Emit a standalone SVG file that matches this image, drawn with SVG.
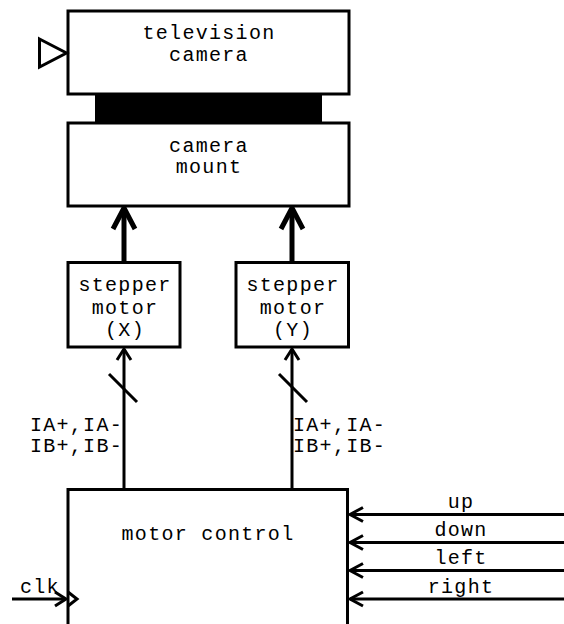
<svg xmlns="http://www.w3.org/2000/svg" width="564" height="624" viewBox="0 0 564 624">
<style>
.box{fill:#fff;stroke:#000;stroke-width:3}
.t{font-family:"Liberation Mono","Courier New",monospace;font-size:20px;letter-spacing:1.3px;fill:#000}
.c{text-anchor:middle}
.e{text-anchor:end}
.ln{fill:none;stroke:#000;stroke-width:3}
.thick{fill:none;stroke:#000;stroke-width:5}
</style>
<rect width="564" height="624" fill="#fff"/>
<g id="connectors">
  <line class="thick" x1="124" y1="262" x2="124" y2="210"/>
  <polyline class="thick" points="113,229 124,208 135,229"/>
  <line class="thick" x1="292" y1="262" x2="292" y2="210"/>
  <polyline class="thick" points="281,229 292,208 303,229"/>
  <line class="ln" x1="124" y1="489" x2="124" y2="349"/>
  <polyline class="ln" points="117,360 124,349 131,360"/>
  <line class="ln" x1="109" y1="374" x2="137" y2="402"/>
  <line class="ln" x1="292" y1="489" x2="292" y2="349"/>
  <polyline class="ln" points="285,360 292,349 299,360"/>
  <line class="ln" x1="279" y1="374" x2="307" y2="402"/>
  <text class="t e" x="123" y="431">IA+,IA-</text>
  <text class="t e" x="123" y="452">IB+,IB-</text>
  <text class="t" x="293" y="431">IA+,IA-</text>
  <text class="t" x="293" y="452">IB+,IB-</text>
  <line class="ln" x1="564" y1="514.5" x2="350" y2="514.5"/>
  <polyline class="ln" points="363,507.5 350,514.5 363,521.5"/>
  <line class="ln" x1="564" y1="542.5" x2="350" y2="542.5"/>
  <polyline class="ln" points="363,535.5 350,542.5 363,549.5"/>
  <line class="ln" x1="564" y1="570.5" x2="350" y2="570.5"/>
  <polyline class="ln" points="363,563.5 350,570.5 363,577.5"/>
  <line class="ln" x1="564" y1="599" x2="350" y2="599"/>
  <polyline class="ln" points="363,592 350,599 363,606"/>
  <text class="t c" x="461" y="508">up</text>
  <text class="t c" x="461" y="536">down</text>
  <text class="t c" x="461" y="564">left</text>
  <text class="t c" x="461" y="593">right</text>
  <line class="ln" x1="12" y1="599" x2="65" y2="599"/>
  <polyline class="ln" points="55,592 66,599 55,606"/>
  <text class="t" x="20" y="593">clk</text>
</g>
<g id="television-camera">
  <rect class="box" x="68" y="11" width="281" height="83"/>
  <polygon points="39.5,39 66.5,53 39.5,67" fill="#fff" stroke="#000" stroke-width="3"/>
  <text class="t c" x="209" y="39">television</text>
  <text class="t c" x="209" y="61">camera</text>
</g>
<g id="mount-link">
  <rect x="95" y="94" width="227" height="29" fill="#000"/>
</g>
<g id="camera-mount">
  <rect class="box" x="68" y="123" width="281" height="83"/>
  <text class="t c" x="209" y="152">camera</text>
  <text class="t c" x="209" y="173">mount</text>
</g>
<g id="stepper-x">
  <rect class="box" x="68" y="262.5" width="112" height="84.5"/>
  <text class="t c" x="125" y="291">stepper</text>
  <text class="t c" x="125" y="314">motor</text>
  <text class="t c" x="125" y="336">(X)</text>
</g>
<g id="stepper-y">
  <rect class="box" x="236" y="262.5" width="112.5" height="84.5"/>
  <text class="t c" x="293" y="291">stepper</text>
  <text class="t c" x="293" y="314">motor</text>
  <text class="t c" x="293" y="336">(Y)</text>
</g>
<g id="motor-control">
  <path d="M68,630 V489.5 H347.5 V630" fill="#fff" stroke="#000" stroke-width="3"/>
  <polyline class="ln" points="68,592 77,599 68,606"/>
  <text class="t c" x="208" y="540">motor control</text>
</g>
</svg>
